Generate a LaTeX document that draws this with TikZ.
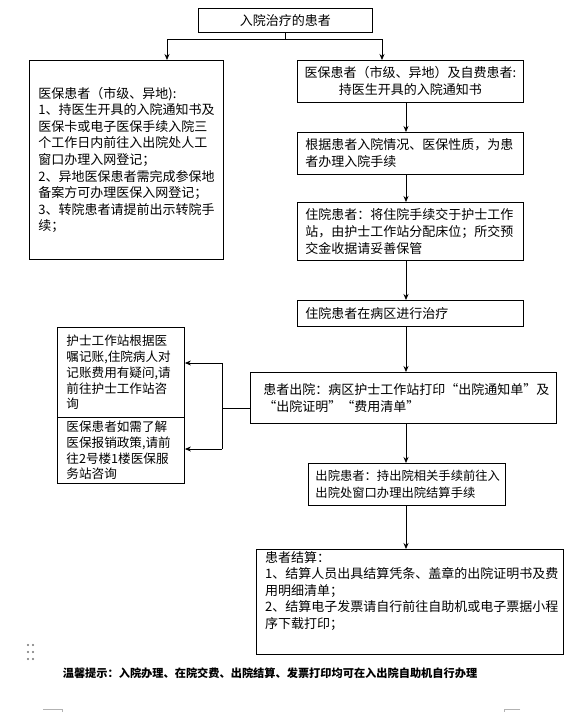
\documentclass[tikz,border=0pt]{standalone}
\usepackage{fontspec}
\setmainfont{Noto Sans CJK SC}
\usetikzlibrary{arrows.meta}
\newcommand\fsz{\fontsize{13pt}{17pt}\selectfont}
\newcommand\fsl{\fontsize{13pt}{16.6pt}\selectfont}
\newcommand\fss{\fontsize{12.6pt}{15.8pt}\selectfont}
\newcommand\fsr{\fontsize{12.3pt}{17pt}\selectfont}
\begin{document}
\begin{tikzpicture}[x=1pt,y=-1pt,
  box/.style={draw, line width=0.9pt, anchor=north west, inner ysep=0pt, align=left, font=\fsz},
  arr/.style={-{Stealth[length=6pt,width=5pt]}, line width=0.8pt},
  ln/.style={line width=0.8pt},
  cornermark/.style={draw=black!30, line width=0.6pt}]
\useasboundingbox[fill=white] (0,0) rectangle (579,712);

% top
\node[box, align=center, minimum width=174, minimum height=24, inner xsep=4pt] (T) at (198,8) {入院治疗的患者};

% left big box
\node[box, font=\fsl, minimum width=193, minimum height=199, inner xsep=9pt, text width=176] (L) at (29,60)
{医保患者（市级、异地):\\
1、持医生开具的入院通知书及\\
医保卡或电子医保手续入院三\\
个工作日内前往入出院处人工\\
窗口办理入网登记；\\
2、异地医保患者需完成参保地\\
备案方可办理医保入网登记；\\
3、转院患者请提前出示转院手\\
续；};

% right column
\node[box, align=center, minimum width=226, minimum height=42, inner xsep=6pt, text width=214] (R1) at (297,60)
{医保患者（市级、异地）及自费患者:\\持医生开具的入院通知书};
\node[box, minimum width=226, minimum height=42, inner xsep=8pt, text width=210] (R2) at (297,132)
{根据患者入院情况、医保性质，为患\\者办理入院手续};
\node[box, minimum width=226, minimum height=58, inner xsep=8pt, text width=210] (R3) at (297,202)
{住院患者：将住院手续交于护士工作\\站，由护士工作站分配床位；所交预\\交金收据请妥善保管};
\node[box, minimum width=226, minimum height=26, inner xsep=8pt, text width=210] (R4) at (297,300)
{住院患者在病区进行治疗};
\node[box, minimum width=306, minimum height=51, inner xsep=13pt, text width=280] (R5) at (250,372)
{患者出院：病区护士工作站打印“出院通知单”及\\“出院证明”“费用清单”};
\node[box, font=\fsr, minimum width=197, minimum height=42, inner xsep=7pt, text width=183] (R6) at (308,463)
{出院患者：持出院相关手续前往入\\出院处窗口办理出院结算手续};
\node[box, minimum width=307, minimum height=105] (R7) at (256,549) {};
\node[anchor=north west, align=left, inner sep=0pt, font=\fsl] (R7t) at (265,551)
{患者结算：\\
1、结算人员出具结算凭条、盖章的出院证明书及费\\
用明细清单；\\
2、结算电子发票请自行前往自助机或电子票据小程\\
序下载打印；};

% left small boxes
\node[box, font=\fss, minimum width=127, minimum height=90, inner xsep=9pt, text width=109] (S1) at (57,327)
{护士工作站根据医\\嘱记账,住院病人对\\记账费用有疑问,请\\前往护士工作站咨\\询};
\node[box, font=\fss, minimum width=127, minimum height=66, inner xsep=9pt, text width=109] (S2) at (57,417)
{医保患者如需了解\\医保报销政策,请前\\往2号楼1楼医保服\\务站咨询};

% connectors
\coordinate (jl) at (167,39);
\coordinate (jr) at (382,39);
\coordinate (ax) at (406,0);
\draw[ln] (T.south) -- (T.south |- jl);
\draw[ln] (jl) -- (jr);
\draw[arr] (jl) -- (jl |- L.north);
\draw[arr] (jr) -- (jr |- R1.north);
\draw[arr] (R1.south -| ax) -- (R2.north -| ax);
\draw[arr] (R2.south -| ax) -- (R3.north -| ax);
\draw[arr] (R3.south -| ax) -- (R4.north -| ax);
\draw[arr] (R4.south -| ax) -- (R5.north -| ax);
\draw[arr] (R5.south -| ax) -- (R6.north -| ax);
\draw[arr] (R6.south -| ax) -- (R7.north -| ax);

\coordinate (bx) at (222,408);
\coordinate (b1) at (222,363);
\coordinate (b2) at (222,449);
\draw[ln] (R5.west |- bx) -- (bx);
\draw[ln] (b1) -- (b2);
\draw[arr] (b1) -- (b1 -| S1.east);
\draw[arr] (b2) -- (b2 -| S2.east);

% footer
\node[font=\bfseries\fontsize{11.2pt}{13pt}\selectfont, inner sep=0pt] (note) at (270,673)
{温馨提示：入院办理、在院交费、出院结算、发票打印均可在入出院自助机自行办理};

% decorations
\foreach \px in {28,33} \foreach \py in {645,652,659}
  \fill[black!55] (\px,\py) circle (1.2);
\draw[cornermark] (43,709) -- (62,709) -- (62,712);
\draw[cornermark] (520,709) -- (504,709) -- (504,712);
\end{tikzpicture}
\end{document}
